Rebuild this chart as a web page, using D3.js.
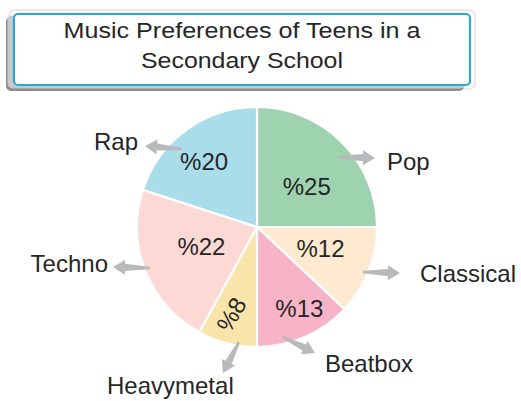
<!DOCTYPE html>
<html><head><meta charset="utf-8">
<script src="https://cdn.jsdelivr.net/npm/d3@7/dist/d3.min.js"></script>
<style>
html,body{margin:0;padding:0;background:#fff;}
svg{display:block;}
text{font-family:"Liberation Sans",Arial,Helvetica,sans-serif;fill:#262626;}
</style></head>
<body>
<svg id="chart" width="521" height="401"></svg>
<script>
// ---- data ----
const titleLines = ["Music Preferences of Teens in a", "Secondary School"];
const categories = ["Pop", "Classical", "Beatbox", "Heavymetal", "Techno", "Rap"];
const values = [25, 12, 13, 8, 22, 20];
const valueLabels = ["%25", "%12", "%13", "%8", "%22", "%20"];
const colors = ["#9dd3af", "#fee9d1", "#f7b4c6", "#f9e4aa", "#fdd9d6", "#a9dde9"];

// ---- layout (annotation placement, relative to pie centre) ----
const labelRadius = [64, 67, 92, 91, 59, 84];
const labelAngleShift = [6, -3, -4, 2, 2, -3];   // degrees
const labelRotate = [0, 0, 0, -60, 0, 0];
const arrowTail = [[81,-70],[106,45],[26,110],[-18,115],[-107,41],[-75,-78]];
const arrowTip  = [[118,-69],[143,46],[58,126],[-34,146],[-144,40],[-112,-81]];
const catPos    = [[130,-57,"start"],[163,55,"start"],[68,145,"start"],[-150,167,"start"],[-149,45,"end"],[-119,-77,"end"]];

const svg = d3.select("#chart");

// ---- title box ----
const tb = {x:13, y:13, w:458, h:73};
svg.append("rect").attr("x", tb.x-4).attr("y", tb.y-3).attr("width", tb.w+8).attr("height", tb.h+6)
  .attr("rx", 6).attr("fill", "none").attr("stroke", "#e3e3e3").attr("stroke-width", 1.5);
svg.append("rect").attr("x", tb.x-7).attr("y", tb.y+4).attr("width", tb.w).attr("height", tb.h+1)
  .attr("rx", 5).attr("fill", "#8c8c8c");
svg.append("rect").attr("x", tb.x-5.5).attr("y", tb.y+2.5).attr("width", tb.w).attr("height", tb.h)
  .attr("rx", 5).attr("fill", "#c8c8c8");
svg.append("rect").attr("x", tb.x+1).attr("y", tb.y+1).attr("width", tb.w-2).attr("height", tb.h-2)
  .attr("rx", 4).attr("fill", "#fff").attr("stroke", "#2aa7df").attr("stroke-width", 2.2);

const tx = tb.x + tb.w/2;
const titleWidths = [357, 202];
svg.selectAll("text.title").data(titleLines).join("text")
  .attr("class","title")
  .attr("x", tx).attr("y", (d,i) => 38 + i*30)
  .attr("text-anchor","middle")
  .attr("font-size", 22.5)
  .attr("textLength", (d,i) => titleWidths[i])
  .attr("lengthAdjust","spacingAndGlyphs")
  .text(d => d);

// ---- pie ----
const cx = 257, cy = 227, R = 120;
const g = svg.append("g").attr("transform", `translate(${cx},${cy})`);
const pie = d3.pie().sort(null).value(d => d).startAngle(0).endAngle(2*Math.PI);
const arcs = pie(values);
const arc = d3.arc().innerRadius(0).outerRadius(R);

g.selectAll("path.slice").data(arcs).join("path")
  .attr("class","slice")
  .attr("d", arc)
  .attr("fill", (d,i) => colors[i])
  .attr("stroke", "#fff").attr("stroke-width", 2.2).attr("stroke-linejoin","round");

// ---- arrows ----
function arrowPath(t, p){
  const dx = p[0]-t[0], dy = p[1]-t[1];
  const L = Math.hypot(dx, dy);
  const ux = dx/L, uy = dy/L, nx = -uy, ny = ux;
  const hl = 12, hw = 7.5, sw0 = 1.2, sw1 = 3.6;
  const pt = (a, b) => [t[0] + ux*a + nx*b, t[1] + uy*a + ny*b];
  const pts = [pt(0,-sw0), pt(L-hl,-sw1), pt(L-hl,-hw), pt(L,0), pt(L-hl,hw), pt(L-hl,sw1), pt(0,sw0)];
  return "M" + pts.map(q => q.join(",")).join("L") + "Z";
}
g.selectAll("path.arrow").data(categories).join("path")
  .attr("class","arrow")
  .attr("d", (d,i) => arrowPath(arrowTail[i], arrowTip[i]))
  .attr("fill", "#b8b9bb");

// ---- value labels ----
g.selectAll("text.val").data(arcs).join("text")
  .attr("class","val")
  .attr("transform", (d,i) => {
    const a = (d.startAngle + d.endAngle)/2 + labelAngleShift[i]*Math.PI/180;
    const r = labelRadius[i];
    const x = Math.sin(a)*r, y = -Math.cos(a)*r;
    return `translate(${x},${y}) rotate(${labelRotate[i]})`;
  })
  .attr("text-anchor","middle")
  .attr("dy","0.36em")
  .attr("font-size", 24)
  .text((d,i) => valueLabels[i]);

// ---- category labels ----
g.selectAll("text.cat").data(categories).join("text")
  .attr("class","cat")
  .attr("x", (d,i) => catPos[i][0])
  .attr("y", (d,i) => catPos[i][1])
  .attr("text-anchor", (d,i) => catPos[i][2])
  .attr("font-size", 24)
  .text(d => d);
</script>
</body></html>
